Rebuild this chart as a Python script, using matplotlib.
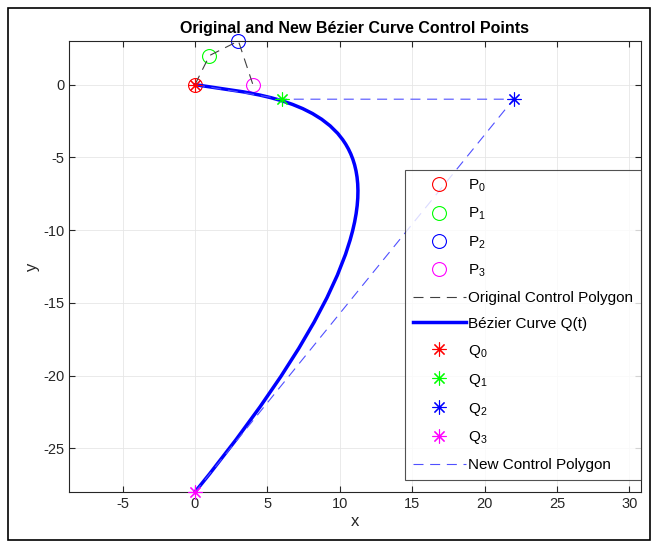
import matplotlib
matplotlib.use("Agg")
import matplotlib.pyplot as plt
from matplotlib.path import Path
from matplotlib.patches import PathPatch, Rectangle
from matplotlib.lines import Line2D

plt.rcParams['font.family'] = ['Liberation Sans', 'DejaVu Sans']
plt.rcParams['axes.unicode_minus'] = False
plt.rcParams['mathtext.default'] = 'regular'

# original control points
P_x = [0, 1, 3, 4]
P_y = [0, 2, 3, 0]
# new control points
Q_x = [0, 6, 22, 0]
Q_y = [0, -1, -1, -28]
pt_colors = ['#ff0000', '#00ff00', '#0000ff', '#ff00ff']

xticks = [-5, 0, 5, 10, 15, 20, 25, 30]
yticks = [-25, -20, -15, -10, -5, 0]

fig = plt.figure(figsize=(6.57, 5.47), dpi=100)
ax = fig.add_axes([69/657, 1 - 492/547, (641 - 69)/657, (492 - 41)/547])

handles = []
for i in range(4):
    h, = ax.plot(P_x[i], P_y[i], 'o', mfc='none', mec=pt_colors[i], ms=10, mew=0.8,
                 clip_on=False, label=f'P$_{i}$')
    handles.append(h)

h, = ax.plot(P_x, P_y, '--', color='#404040', lw=0.8, dashes=(9, 6),
             label='Original Control Polygon')
handles.append(h)

# cubic Bezier drawn by matplotlib's own path renderer
verts = list(zip(Q_x, Q_y))
codes = [Path.MOVETO, Path.CURVE4, Path.CURVE4, Path.CURVE4]
ax.add_patch(PathPatch(Path(verts, codes), fill=False, edgecolor='#0000ff', lw=2.5,
                       capstyle='round', zorder=3))
handles.append(Line2D([], [], color='#0000ff', lw=2.5, label='Bézier Curve Q(t)'))

for i in range(4):
    h, = ax.plot(Q_x[i], Q_y[i], marker=(8, 2, 0), ls='none', mec=pt_colors[i],
                 mfc=pt_colors[i], ms=10, mew=0.8, zorder=4, clip_on=False,
                 label=f'Q$_{i}$')
    handles.append(h)

h, = ax.plot(Q_x, Q_y, '--', color='#5050ff', lw=0.8, dashes=(9, 6),
             label='New Control Polygon', zorder=3.5)
handles.append(h)

ax.set_xlim(-8.7, 30.8)
ax.set_ylim(-28, 3)
ax.set_xticks(xticks)
ax.set_yticks(yticks)
ax.tick_params(direction='in', length=4, labelsize=10.5, colors='#262626',
               top=True, right=True)
ax.grid(True, color='#e6e6e6', lw=0.6)
ax.set_axisbelow(True)
for s in ax.spines.values():
    s.set_color('#262626')
    s.set_linewidth(0.8)
ax.set_xlabel('x', fontsize=12, color='#262626', labelpad=2)
ax.set_ylabel('y', fontsize=12, color='#262626', labelpad=2)
ax.set_title('Original and New Bézier Curve Control Points', fontsize=11.5,
             fontweight='bold', pad=6)

leg = ax.legend(handles=handles, loc='upper left',
                bbox_to_anchor=(405/657, 1 - 170/547), bbox_transform=fig.transFigure,
                fontsize=11, frameon=True, fancybox=False, edgecolor='#262626',
                handlelength=3.5, handletextpad=0.15, labelspacing=0.78,
                borderpad=0.5, borderaxespad=0)
leg.get_frame().set_linewidth(0.8)

fig.patches.append(Rectangle((8/657, 1 - 540/547), (650 - 8)/657, (540 - 8)/547,
                             transform=fig.transFigure, fill=False, edgecolor='black',
                             lw=1.2))

plt.savefig('out.png', dpi=100)
